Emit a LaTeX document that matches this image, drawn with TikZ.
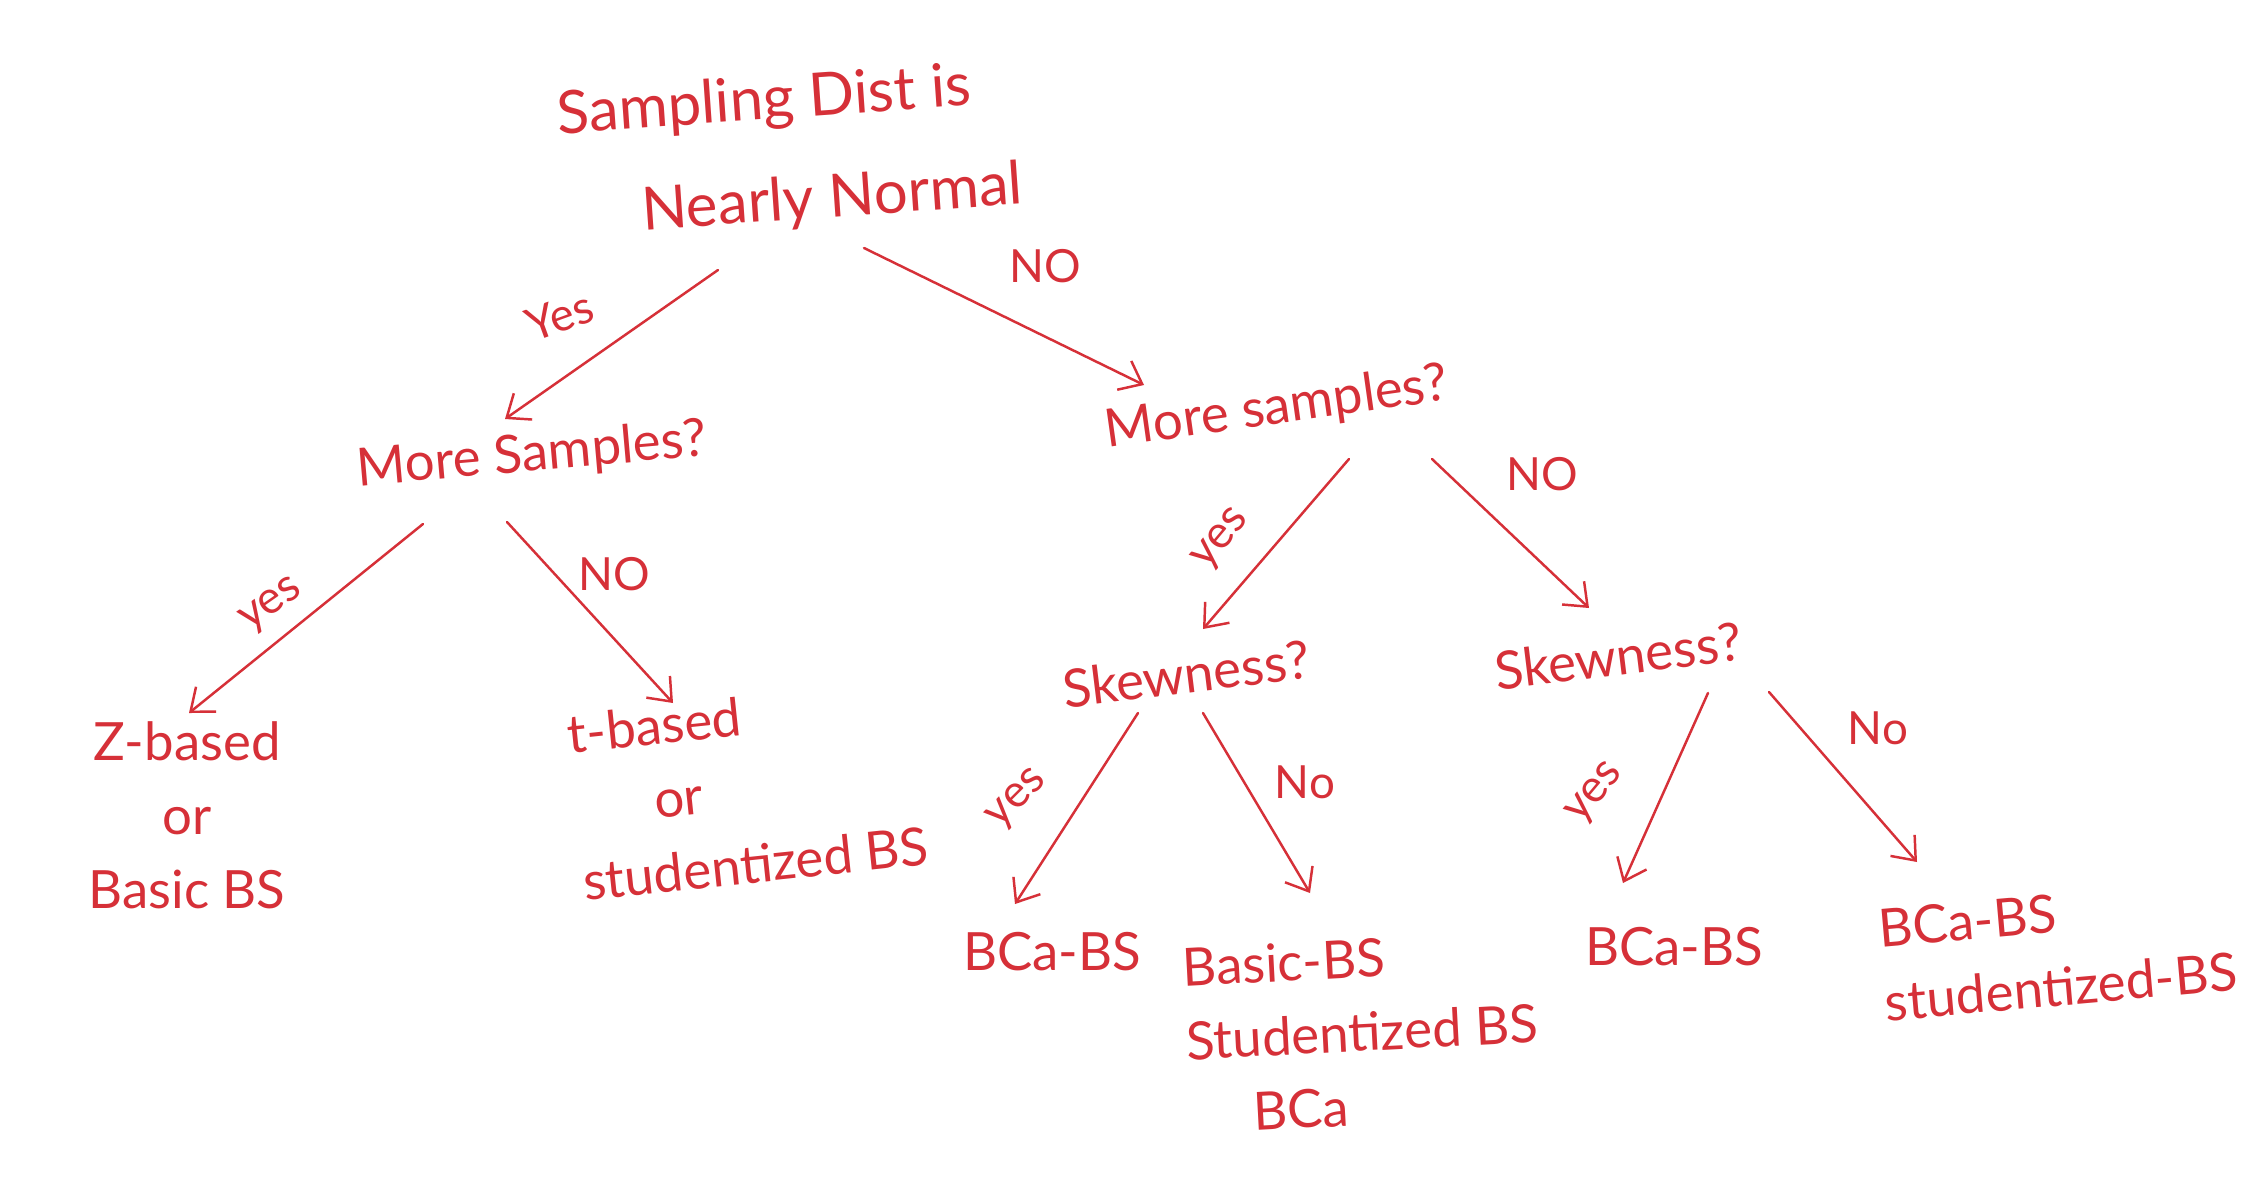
\documentclass[tikz,border=0pt]{standalone}
\usepackage{fontspec}
\setmainfont{Lato}
\usetikzlibrary{arrows.meta}
\definecolor{ink}{RGB}{214,48,56}
\tikzset{
  txt/.style={text=ink, font=\fontsize{15}{21}\selectfont, inner sep=1pt},
  big/.style={text=ink, font=\fontsize{17}{29}\selectfont, inner sep=1pt},
  lbl/.style={text=ink, font=\fontsize{13}{15}\selectfont, inner sep=0.5pt},
  arr/.style={draw=ink, line width=0.7pt, line cap=round, -{Straight Barb[length=2mm,width=3.2mm,line width=0.7pt]}}
}
\begin{document}
\begin{tikzpicture}[x=0.01cm,y=-0.01cm]
\useasboundingbox (0,0) rectangle (2250,1178);
\fill[white] (0,0) rectangle (2250,1178);
% nodes
\node[big, align=left, rotate=4] (root) at (790,152) {Sampling Dist is\\\hspace*{1.3em}Nearly Normal};
\node[txt, rotate=5] (ms1) at (532,456) {More Samples?};
\node[txt, rotate=8] (ms2) at (1277,409) {More samples?};
\node[txt, align=center] (zb) at (187,815) {Z-based\\or\\Basic BS};
\node[txt, align=left, rotate=6] (tb) at (748,790) {t-based\\\hspace*{1.5em}or\\studentized BS};
\node[txt, rotate=7] (sk1) at (1186,674) {Skewness?};
\node[txt, rotate=7] (sk2) at (1618,656) {Skewness?};
\node[txt] (bca1) at (1052,952) {BCa-BS};
\node[txt, align=left, rotate=3] (basic) at (1362,1032) {Basic-BS\\Studentized BS\\\hspace*{1.2em}BCa};
\node[txt] (bca2) at (1674,947) {BCa-BS};
\node[txt, align=left, rotate=5] (bstud) at (2058,950) {BCa-BS\\studentized-BS};
% connector endpoints
\coordinate (r1) at (718,270); \coordinate (l0) at (505,419);
\coordinate (r2) at (864,248); \coordinate (m0) at (1144,385);
\coordinate (l1) at (423,524); \coordinate (z0) at (189,713);
\coordinate (l2) at (507,522); \coordinate (t0) at (673,703);
\coordinate (m1) at (1349,459); \coordinate (s0) at (1203,629);
\coordinate (m2) at (1432,459); \coordinate (q0) at (1589,608);
\coordinate (s1) at (1138,713); \coordinate (b0) at (1015,904);
\coordinate (s2) at (1203,713); \coordinate (c0) at (1310,893);
\coordinate (q1) at (1708,693); \coordinate (d0) at (1623,883);
\coordinate (q2) at (1769,692); \coordinate (e0) at (1917,862);
\draw[arr] (r1) -- (l0);
\draw[arr] (r2) -- (m0);
\draw[arr] (l1) -- (z0);
\draw[arr] (l2) -- (t0);
\draw[arr] (m1) -- (s0);
\draw[arr] (m2) -- (q0);
\draw[arr] (s1) -- (b0);
\draw[arr] (s2) -- (c0);
\draw[arr] (q1) -- (d0);
\draw[arr] (q2) -- (e0);
% labels
\node[lbl, rotate=20] (y1) at (560,316) {Yes};
\node[lbl] (n1) at (1045,266) {NO};
\node[lbl, rotate=35] (y2) at (272,606) {yes};
\node[lbl] (n2) at (614,574) {NO};
\node[lbl, rotate=50] (y3) at (1222,540) {yes};
\node[lbl] (n3) at (1542,474) {NO};
\node[lbl, rotate=45] (y4) at (1018,800) {yes};
\node[lbl] (n4) at (1305,782) {No};
\node[lbl, rotate=50] (y5) at (1596,794) {yes};
\node[lbl] (n5) at (1878,728) {No};
\end{tikzpicture}
\end{document}
